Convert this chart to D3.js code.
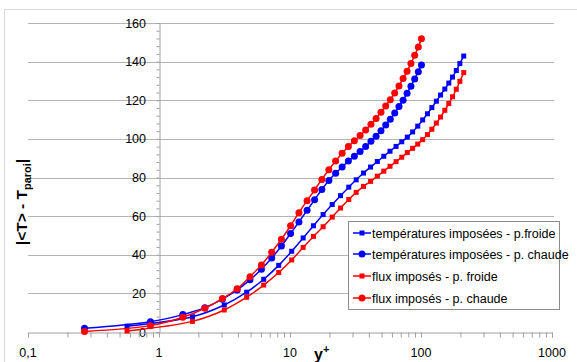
<!DOCTYPE html>
<html>
<head>
<meta charset="utf-8">
<script src="https://cdn.jsdelivr.net/npm/d3@7"></script>
<style>
  body { margin: 0; background: #fff; }
  text { font-family: "Liberation Sans", Arial, sans-serif; }
</style>
</head>
<body>
<script>
// y+ grids (hot wall / cold wall)
const yPlusChaude = [0.27, 0.86, 1.52, 2.24, 3.05, 3.95, 4.95, 6.05, 7.25, 8.6, 10.1, 11.7, 13.5, 15.4, 17.5,
  19.8, 22.3, 25.0, 27.9, 31.0, 34.3, 37.8, 41.5, 45.4, 49.5, 53.8, 58.3, 63.0, 67.9, 73.0, 78.3, 83.8, 89.5, 95.4, 100.8];
const yPlusFroide = [0.57, 1.8, 3.15, 4.67, 6.3, 8.2, 10.3, 12.6, 15.1, 17.9, 21, 24.3, 28.1, 32, 36.4,
  41.2, 46.4, 52, 58, 64.5, 71.3, 78.6, 86.3, 94.4, 103, 112, 121, 131, 141, 152, 163, 174, 186, 198, 212];

// |<T> - Tparoi|
const tempFroide = [3.0, 7.9, 14.0, 20.6, 27.3, 34.5, 41.8, 48.7, 55, 60.8, 66, 70.6, 75, 78.8, 82.3,
  85.4, 88.3, 91, 93.6, 96.1, 98.5, 100.9, 103.6, 106.6, 109.8, 113, 116.2, 119.5, 122.7, 125.8, 128.9, 132, 135.4, 139, 142.9];
const tempChaude = [1.9, 5.3, 9.0, 12.6, 17.0, 21.8, 27, 32.5, 38.3, 44.5, 51, 57, 63, 68.5, 73.8,
  78.5, 82.2, 85.4, 88.5, 91, 93.5, 96, 98.8, 101.4, 104.2, 107.2, 110.2, 113.4, 116.7, 120, 123.6, 127.3, 131, 134.8, 138.3];
const fluxFroide = [0.5, 5.5, 11.4, 18, 24.3, 30.8, 37.3, 43.8, 49.5, 54.5, 59.5, 64.2, 68.6, 72.3, 75.4,
  78, 80.7, 83.3, 85.8, 88.2, 90.5, 92.9, 95.1, 97.3, 99.6, 102.2, 105, 108.2, 111.3, 114.8, 118.3, 121.8, 125.7, 129.8, 134.3];
const fluxChaude = [0.3, 3.3, 7.6, 12.3, 17.3, 22.4, 28.6, 34.7, 41.3, 48, 55, 61.8, 68, 73.5, 79,
  84, 88.5, 92.5, 96, 99, 101.8, 104.6, 107.6, 110.6, 113.8, 117, 120.3, 123.8, 127.4, 131.2, 135, 139, 143.3, 147.6, 151.8];

const seriesNames = ["températures imposées - p.froide", "températures imposées - p. chaude",
  "flux imposés - p. froide", "flux imposés - p. chaude"];
const yTicks = [0, 20, 40, 60, 80, 100, 120, 140, 160];
const xTicks = [0.1, 1, 10, 100, 1000];
const xTickLabels = ["0,1", "1", "10", "100", "1000"];

const series = [
  { name: seriesNames[0], x: yPlusFroide, y: tempFroide, color: "#0000ff", shape: "square" },
  { name: seriesNames[1], x: yPlusChaude, y: tempChaude, color: "#0000ff", shape: "circle" },
  { name: seriesNames[2], x: yPlusFroide, y: fluxFroide, color: "#ff0000", shape: "square" },
  { name: seriesNames[3], x: yPlusChaude, y: fluxChaude, color: "#ff0000", shape: "circle" }
];

const width = 577, height = 362;
const svg = d3.select("body").append("svg")
  .attr("width", width).attr("height", height);

// outer chart frame
svg.append("rect")
  .attr("x", 4.5).attr("y", 9.5)
  .attr("width", 620).attr("height", 400)
  .attr("fill", "#fff").attr("stroke", "#d9d9d9");

const x = d3.scaleLog().domain([0.1, 1000]).range([28, 552]);
const y = d3.scaleLinear().domain([0, 160]).range([332, 23]);

// horizontal gridlines
svg.append("g").selectAll("line")
  .data(yTicks.filter(d => d > 0))
  .enter().append("line")
  .attr("x1", x(0.1)).attr("x2", x(1000) + 2)
  .attr("y1", d => Math.round(y(d)) + 0.5).attr("y2", d => Math.round(y(d)) + 0.5)
  .attr("stroke", "#b4b4b4");

// y axis (crosses at x = 1)
const yAxis = svg.append("g")
  .attr("transform", "translate(" + (Math.round(x(1)) + 0.5) + ",0)")
  .call(d3.axisLeft(y).tickValues(d3.range(0, 161, 4)).tickSize(3).tickFormat(""));
yAxis.select(".domain").attr("stroke", "#a0a0a0");
yAxis.selectAll(".tick line").attr("stroke", "#a0a0a0");

svg.append("g").selectAll("text")
  .data(yTicks)
  .enter().append("text")
  .attr("x", 146)
  .attr("y", d => y(d) + 4.5)
  .attr("text-anchor", "end")
  .attr("font-size", 12.5)
  .attr("fill", "#000")
  .text(d => d);

// x axis (log)
const minor = [];
[0.1, 1, 10, 100].forEach(dec => { for (let k = 1; k < 10; k++) minor.push(dec * k); });
minor.push(1000);
const xAxis = svg.append("g")
  .attr("transform", "translate(0," + (Math.round(y(0)) + 0.5) + ")")
  .call(d3.axisBottom(x).tickValues(minor).tickSize(5).tickFormat(""));
xAxis.select(".domain").attr("stroke", "#a0a0a0");
xAxis.selectAll(".tick line").attr("stroke", "#a0a0a0");

svg.append("g").selectAll("text")
  .data(xTicks)
  .enter().append("text")
  .attr("x", d => x(d))
  .attr("y", 357)
  .attr("text-anchor", "middle")
  .attr("font-size", 12.5)
  .attr("fill", "#000")
  .text((d, i) => xTickLabels[i]);

// axis titles
const xt = svg.append("text")
  .attr("x", 314).attr("y", 360)
  .attr("font-size", 16).attr("font-weight", "bold");
xt.append("tspan").text("y");
xt.append("tspan").attr("font-size", 11).attr("dy", -7).text("+");

const yt = svg.append("text")
  .attr("transform", "translate(27,202) rotate(-90)")
  .attr("text-anchor", "middle")
  .attr("font-size", 15.5).attr("font-weight", "bold");
yt.append("tspan").text("|<T> - T");
yt.append("tspan").attr("font-size", 11).attr("dy", 4).text("paroi");
yt.append("tspan").attr("dy", -4).text("|");

// series
const line = d3.line()
  .x(d => x(d[0])).y(d => y(d[1]))
  .curve(d3.curveCatmullRom.alpha(0.5));

function drawMarker(g, shape, color, cx, cy) {
  if (shape === "square") {
    g.append("rect")
      .attr("x", cx - 2.5).attr("y", cy - 2.5)
      .attr("width", 5).attr("height", 5)
      .attr("fill", color);
  } else {
    g.append("circle")
      .attr("cx", cx).attr("cy", cy).attr("r", 3.5)
      .attr("fill", color);
  }
}

series.forEach(s => {
  const pts = s.x.map((v, i) => [v, s.y[i]]);
  const g = svg.append("g");
  g.append("path")
    .attr("d", line(pts))
    .attr("fill", "none")
    .attr("stroke", s.color)
    .attr("stroke-width", 1.5);
  pts.forEach(p => drawMarker(g, s.shape, s.color, x(p[0]), y(p[1])));
});

// legend
const legend = svg.append("g");
legend.append("rect")
  .attr("x", 348.5).attr("y", 221.5)
  .attr("width", 211).attr("height", 88)
  .attr("fill", "#fff").attr("stroke", "#8c8c8c");

const legY = [233, 254, 276, 298];
series.forEach((s, i) => {
  legend.append("line")
    .attr("x1", 353).attr("x2", 371)
    .attr("y1", legY[i]).attr("y2", legY[i])
    .attr("stroke", s.color).attr("stroke-width", 1.5);
  drawMarker(legend, s.shape, s.color, 362, legY[i]);
  legend.append("text")
    .attr("x", 372).attr("y", legY[i] + 4.5)
    .attr("font-size", 12.5)
    .attr("fill", "#000")
    .text(s.name);
});
</script>
</body>
</html>
